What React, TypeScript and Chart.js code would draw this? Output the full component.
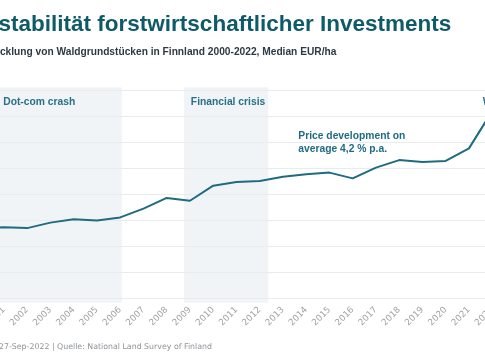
import React, { useEffect, useRef } from 'react';
import { Chart, registerables } from 'chart.js';

Chart.register(...registerables);

const years = ['2000', '2001', '2002', '2003', '2004', '2005', '2006', '2007', '2008', '2009', '2010', '2011', '2012', '2013', '2014', '2015', '2016', '2017', '2018', '2019', '2020', '2021', '2022'];
const medianPrice = [2700, 2740, 2710, 2920, 3050, 3000, 3120, 3460, 3870, 3760, 4340, 4480, 4520, 4680, 4780, 4840, 4620, 5030, 5320, 5250, 5290, 5770, 7200];

const yMin = 0;
const yMax = 8000;
const yStep = 1000;

const bandLabels = ['Dot-com crash', 'Financial crisis', 'War in Ukraine'];
const bandStartYears = [2000.68, 2008.75, 2021.3];
const bandEndYears: (number | null)[] = [2006.07, 2012.37, null];

const titleText = 'Wertstabilität forstwirtschaftlicher Investments';
const subtitleText = 'Preisentwicklung von Waldgrundstücken in Finnland 2000-2022, Median EUR/ha';
const footerPrefix = 'Stand: ';
const footerText = '27-Sep-2022 | Quelle: National Land Survey of Finland';
const noteLines = ['Price development on', 'average 4,2 % p.a.'];

const SHIFT = 66; // canvas is shifted left; reference is a crop
const firstYear = Number(years[0]);

const decorPlugin = {
  id: 'decor',
  beforeDraw(chart: any) {
    const { ctx, chartArea, scales } = chart;
    const x = scales.x;
    ctx.save();
    ctx.fillStyle = '#f1f4f7';
    bandStartYears.forEach((s, i) => {
      const e = bandEndYears[i];
      if (e === null) return;
      const x0 = x.getPixelForValue(s - firstYear);
      const x1 = x.getPixelForValue(e - firstYear);
      ctx.fillRect(x0, chartArea.top - 3, x1 - x0, chartArea.bottom - chartArea.top + 7);
    });
    ctx.restore();
  },
  afterDraw(chart: any) {
    const { ctx, scales } = chart;
    const x = scales.x;
    ctx.save();
    ctx.textAlign = 'left';
    ctx.textBaseline = 'alphabetic';
    // title
    ctx.fillStyle = '#0f5a69';
    ctx.font = 'bold 22.5px "Liberation Sans", Arial, sans-serif';
    ctx.fillText(titleText, SHIFT - 51, 30.5);
    // subtitle
    ctx.fillStyle = '#2b3a44';
    ctx.font = 'bold 10.2px "Liberation Sans", Arial, sans-serif';
    ctx.fillText(subtitleText, SHIFT - 51, 54.5);
    // band labels
    ctx.fillStyle = '#2a6f88';
    ctx.font = 'bold 10.3px "Liberation Sans", Arial, sans-serif';
    bandStartYears.forEach((s, i) => {
      const px = x.getPixelForValue(s - firstYear);
      ctx.fillText(bandLabels[i], px + 6.7, 104.5);
    });
    // note
    ctx.fillStyle = '#1f6b84';
    ctx.fillText(noteLines[0], SHIFT + 298.3, 139);
    ctx.fillText(noteLines[1], SHIFT + 298.3, 151.5);
    // footer
    ctx.fillStyle = '#8e9398';
    ctx.font = '7.85px "DejaVu Sans", sans-serif';
    const pw = ctx.measureText(footerPrefix).width;
    ctx.fillText(footerPrefix + footerText, SHIFT - 1 - pw, 348.5);
    ctx.restore();
  },
};

export default function App() {
  const canvasRef = useRef<HTMLCanvasElement | null>(null);

  useEffect(() => {
    if (!canvasRef.current) return;
    const chart = new Chart(canvasRef.current, {
      type: 'line',
      data: {
        labels: years,
        datasets: [
          {
            data: medianPrice,
            borderColor: '#1f6b80',
            borderWidth: 2,
            pointRadius: 0,
            tension: 0,
            fill: false,
            borderJoinStyle: 'round',
          },
        ],
      },
      options: {
        animation: false,
        responsive: true,
        maintainAspectRatio: false,
        layout: { padding: { top: 90.3, left: 46.7, right: 41.8, bottom: 31.3 } },
        plugins: {
          legend: { display: false },
          title: { display: false },
          tooltip: { enabled: false },
        },
        scales: {
          x: {
            offset: false,
            grid: { display: false, drawTicks: false },
            border: { display: false },
            ticks: {
              autoSkip: false,
              minRotation: 45,
              maxRotation: 45,
              padding: 6,
              color: '#a2a2a2',
              font: { family: '"DejaVu Sans", sans-serif', size: 8.8 },
            },
            afterFit: (s: any) => {
              s.height = 30;
            },
          },
          y: {
            min: yMin,
            max: yMax,
            ticks: { display: false, stepSize: yStep },
            grid: { color: '#e8ecef', lineWidth: 1, drawTicks: false },
            border: { display: false },
            afterFit: (s: any) => {
              s.width = 0;
            },
          },
        },
      },
      plugins: [decorPlugin],
    });
    return () => chart.destroy();
  }, []);

  return (
    <div style={{ position: 'fixed', left: 0, top: 0, width: 485, height: 360, overflow: 'hidden', background: '#fff' }}>
      <div style={{ position: 'absolute', left: -SHIFT, top: 0, width: 600, height: 360 }}>
        <canvas ref={canvasRef} />
      </div>
    </div>
  );
}
